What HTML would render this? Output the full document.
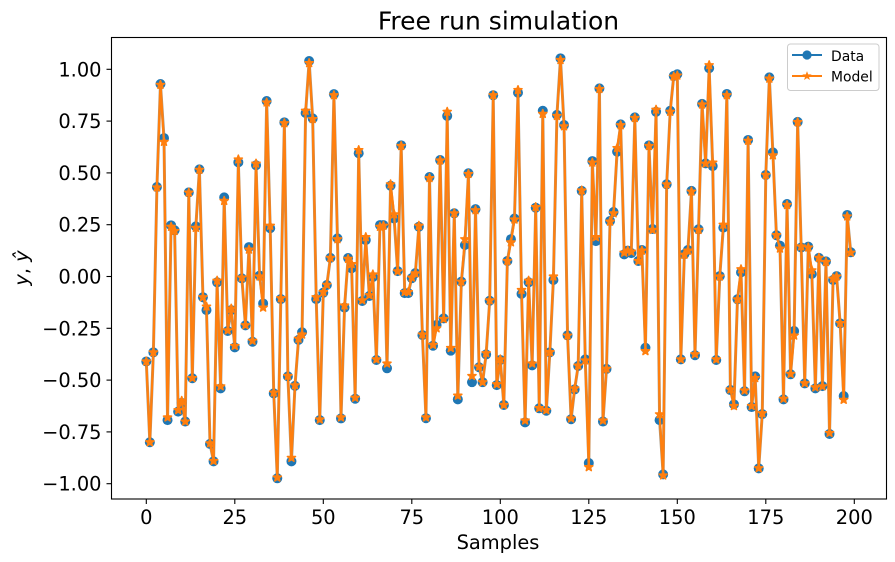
<!DOCTYPE html>
<html lang="en">
<head>
<meta charset="utf-8">
<title>Free run simulation</title>
<style>
html,body{margin:0;padding:0;background:#fff;}
svg{display:block;}
text{font-family:"DejaVu Sans","Liberation Sans",sans-serif;fill:#000;}
</style>
</head>
<body>
<svg id="chart" xmlns="http://www.w3.org/2000/svg" width="895" height="562" viewBox="0 0 895 562">
  <rect x="0" y="0" width="895" height="562" fill="#fff"/>
  <rect x="111.5" y="37.5" width="775" height="461.5" fill="#fff"/>
  <g id="clip-wrap"></g>
  <g id="x-ticks"></g>
  <g id="y-ticks"></g>
  <rect x="111.5" y="37.5" width="775" height="461.5" fill="none" stroke="#000" stroke-width="1.1"/>
  <text x="498.5" y="29.5" text-anchor="middle" font-size="25">Free run simulation</text>
  <text x="498" y="549" text-anchor="middle" font-size="19.4">Samples</text>
  <text transform="translate(28,268) rotate(-90)" text-anchor="middle" font-size="19.4"><tspan font-style="italic">y</tspan>, <tspan font-style="italic">ŷ</tspan></text>
  <g>
    <rect x="787.5" y="44" width="91.5" height="46.5" rx="3" ry="3" fill="#fff" fill-opacity="0.8" stroke="#ccc" stroke-width="1"/>
    <g id="legend-marks"></g>
    <text x="831" y="60.8" font-size="13.9">Data</text>
    <text x="831" y="81.6" font-size="13.9">Model</text>
  </g>
</svg>
<script>
const dataSeries = [
-0.41,-0.80,-0.366,0.432,0.929,0.668,-0.693,0.247,0.223,-0.652,
-0.61,-0.70,0.406,-0.491,0.242,0.517,-0.10,-0.162,-0.808,-0.892,
-0.028,-0.54,0.382,-0.263,-0.162,-0.342,0.551,-0.009,-0.236,0.142,
-0.315,0.537,0.004,-0.13,0.847,0.233,-0.564,-0.974,-0.109,0.744,
-0.482,-0.892,-0.528,-0.306,-0.269,0.789,1.04,0.763,-0.109,-0.693,
-0.078,-0.041,0.09,0.88,0.184,-0.685,-0.15,0.089,0.04,-0.59,
0.595,-0.118,0.176,-0.094,-0.003,-0.403,0.248,0.248,-0.443,0.438,
0.28,0.026,0.633,-0.08,-0.08,-0.008,0.016,0.24,-0.283,-0.684,
0.48,-0.334,-0.234,0.562,-0.202,0.775,-0.358,0.305,-0.593,-0.025,
0.152,0.498,-0.51,0.325,-0.438,-0.51,-0.376,-0.117,0.875,-0.524,
-0.403,-0.62,0.075,0.18,0.28,0.887,-0.084,-0.704,-0.028,-0.429,
0.332,-0.636,0.80,-0.648,-0.366,-0.017,0.78,1.053,0.731,-0.284,
-0.689,-0.545,-0.432,0.413,-0.40,-0.90,0.557,0.171,0.908,-0.70,
-0.446,0.268,0.311,0.602,0.734,0.107,0.125,0.113,0.768,0.075,
0.128,-0.344,0.633,0.229,0.795,-0.693,-0.955,0.445,0.80,0.968,
0.976,-0.40,0.108,0.128,0.413,-0.38,0.228,0.833,0.546,1.005,
0.533,-0.403,0.002,0.236,0.881,-0.548,-0.617,-0.11,0.02,-0.554,
0.659,-0.63,-0.482,-0.926,-0.664,0.49,0.961,0.599,0.199,0.149,
-0.593,0.35,-0.472,-0.263,0.746,0.14,-0.516,0.144,0.012,-0.54,
0.09,-0.529,0.073,-0.76,-0.017,0.002,-0.226,-0.577,0.297,0.117
];
const modelSeries = [
-0.41,-0.80,-0.366,0.43,0.925,0.65,-0.68,0.24,0.22,-0.645,
-0.60,-0.70,0.405,-0.49,0.235,0.515,-0.10,-0.145,-0.805,-0.89,
-0.02,-0.53,0.365,-0.26,-0.155,-0.335,0.565,-0.005,-0.235,0.13,
-0.31,0.545,0.0,-0.15,0.84,0.245,-0.56,-0.97,-0.105,0.74,
-0.48,-0.875,-0.525,-0.30,-0.28,0.80,1.03,0.76,-0.10,-0.69,
-0.075,-0.04,0.09,0.875,0.18,-0.68,-0.14,0.085,0.06,-0.585,
0.61,-0.115,0.19,-0.09,0.01,-0.40,0.24,0.245,-0.42,0.445,
0.30,0.025,0.63,-0.075,-0.075,-0.005,0.015,0.245,-0.28,-0.68,
0.475,-0.33,-0.25,0.56,-0.205,0.795,-0.345,0.305,-0.575,-0.025,
0.18,0.495,-0.48,0.32,-0.435,-0.51,-0.37,-0.115,0.875,-0.52,
-0.40,-0.62,0.075,0.165,0.275,0.90,-0.065,-0.695,-0.02,-0.42,
0.335,-0.635,0.785,-0.645,-0.365,0.0,0.775,1.045,0.725,-0.285,
-0.685,-0.54,-0.43,0.415,-0.405,-0.92,0.55,0.19,0.905,-0.695,
-0.445,0.265,0.305,0.62,0.73,0.115,0.125,0.12,0.765,0.075,
0.125,-0.36,0.63,0.225,0.805,-0.665,-0.96,0.445,0.795,0.965,
0.97,-0.40,0.105,0.125,0.41,-0.375,0.225,0.83,0.545,1.02,
0.55,-0.40,0.0,0.25,0.875,-0.545,-0.625,-0.11,0.035,-0.55,
0.655,-0.625,-0.49,-0.925,-0.66,0.49,0.955,0.585,0.2,0.135,
-0.59,0.345,-0.47,-0.285,0.745,0.145,-0.515,0.14,0.03,-0.535,
0.09,-0.53,0.07,-0.755,-0.01,0.0,-0.225,-0.595,0.29,0.115
];
const xTickValues = [0, 25, 50, 75, 100, 125, 150, 175, 200];
const yTickValues = [-1, -0.75, -0.5, -0.25, 0, 0.25, 0.5, 0.75, 1];

const NS = 'http://www.w3.org/2000/svg';
const BLUE = '#1f77b4';
const ORANGE = '#ff7f0e';

function xScale(v) { return 146.3 + v * 3.54; }
function yScale(v) { return 276.5 - v * 207.2; }

function starPoints(cx, cy, r) {
  const pts = [];
  for (let k = 0; k < 10; k++) {
    const rad = k % 2 === 0 ? r : r * 0.42;
    const a = -Math.PI / 2 + k * Math.PI / 5;
    pts.push((cx + rad * Math.cos(a)).toFixed(2) + ',' + (cy + rad * Math.sin(a)).toFixed(2));
  }
  return pts.join(' ');
}
function make(tag) { return document.createElementNS(NS, tag); }

function formatY(v) {
  const s = Math.abs(v).toFixed(2);
  return (v < 0 ? '\u2212' : '') + s;
}

const plot = document.getElementById('clip-wrap');

function linePoints(values) {
  return values.map(function (v, i) { return xScale(i).toFixed(2) + ',' + yScale(v).toFixed(2); }).join(' ');
}

// Data series
const dataLine = make('polyline');


dataLine.setAttribute('points', linePoints(dataSeries));
dataLine.setAttribute('fill', 'none');
dataLine.setAttribute('stroke', '#a89a86');
dataLine.setAttribute('stroke-width', '3');
dataLine.setAttribute('stroke-linejoin', 'round');
plot.appendChild(dataLine);

dataSeries.forEach(function (v, i) {
  const c = make('circle');
  
  
  c.setAttribute('cx', xScale(i).toFixed(2));
  c.setAttribute('cy', yScale(v).toFixed(2));
  c.setAttribute('r', '5');
  c.setAttribute('fill', BLUE);
  plot.appendChild(c);
});

// Model series
const modelLine = make('polyline');


modelLine.setAttribute('points', linePoints(modelSeries));
modelLine.setAttribute('fill', 'none');
modelLine.setAttribute('stroke', ORANGE);
modelLine.setAttribute('stroke-width', '2.3');
modelLine.setAttribute('stroke-linejoin', 'round');
plot.appendChild(modelLine);

modelSeries.forEach(function (v, i) {
  const s = make('polygon');
  
  
  s.setAttribute('points', starPoints(xScale(i), yScale(v), 4.3));
  s.setAttribute('fill', ORANGE);
  s.setAttribute('stroke', ORANGE);
  s.setAttribute('stroke-width', '1.5');
  s.setAttribute('stroke-linejoin', 'round');
  plot.appendChild(s);
});

// X ticks
const xTicks = document.getElementById('x-ticks');
xTickValues.forEach(function (v) {
  const x = xScale(v);
  const t = make('line');
  
  
  t.setAttribute('x1', x);
  t.setAttribute('x2', x);
  t.setAttribute('y1', 499);
  t.setAttribute('y2', 504);
  t.setAttribute('stroke', '#000');
  t.setAttribute('stroke-width', '1.1');
  xTicks.appendChild(t);
  const l = make('text');
  
  
  l.setAttribute('x', x);
  l.setAttribute('y', 524);
  l.setAttribute('text-anchor', 'middle');
  l.setAttribute('font-size', '19.4');
  l.textContent = String(v);
  xTicks.appendChild(l);
});

// Y ticks
const yTicks = document.getElementById('y-ticks');
yTickValues.forEach(function (v) {
  const y = yScale(v);
  const t = make('line');
  
  
  t.setAttribute('x1', 106.5);
  t.setAttribute('x2', 111.5);
  t.setAttribute('y1', y);
  t.setAttribute('y2', y);
  t.setAttribute('stroke', '#000');
  t.setAttribute('stroke-width', '1.1');
  yTicks.appendChild(t);
  const l = make('text');
  
  
  l.setAttribute('x', 101.5);
  l.setAttribute('y', y + 7);
  l.setAttribute('text-anchor', 'end');
  l.setAttribute('font-size', '19.4');
  l.textContent = formatY(v);
  yTicks.appendChild(l);
});

// Legend marks
const legendMarks = document.getElementById('legend-marks');
const legendDataLine = make('line');


legendDataLine.setAttribute('x1', 792);
legendDataLine.setAttribute('x2', 822);
legendDataLine.setAttribute('y1', 55);
legendDataLine.setAttribute('y2', 55);
legendDataLine.setAttribute('stroke', BLUE);
legendDataLine.setAttribute('stroke-width', '2.08');
legendMarks.appendChild(legendDataLine);
const legendDataMarker = make('circle');


legendDataMarker.setAttribute('cx', 807);
legendDataMarker.setAttribute('cy', 55);
legendDataMarker.setAttribute('r', '4.6');
legendDataMarker.setAttribute('fill', BLUE);
legendMarks.appendChild(legendDataMarker);
const legendModelLine = make('line');


legendModelLine.setAttribute('x1', 792);
legendModelLine.setAttribute('x2', 822);
legendModelLine.setAttribute('y1', 76);
legendModelLine.setAttribute('y2', 76);
legendModelLine.setAttribute('stroke', ORANGE);
legendModelLine.setAttribute('stroke-width', '2.08');
legendMarks.appendChild(legendModelLine);
const legendModelMarker = make('polygon');


legendModelMarker.setAttribute('points', starPoints(807, 76, 3.2));
legendModelMarker.setAttribute('fill', ORANGE);
legendModelMarker.setAttribute('stroke', ORANGE);
legendModelMarker.setAttribute('stroke-width', '1.2');
legendMarks.appendChild(legendModelMarker);
</script>
</body>
</html>
